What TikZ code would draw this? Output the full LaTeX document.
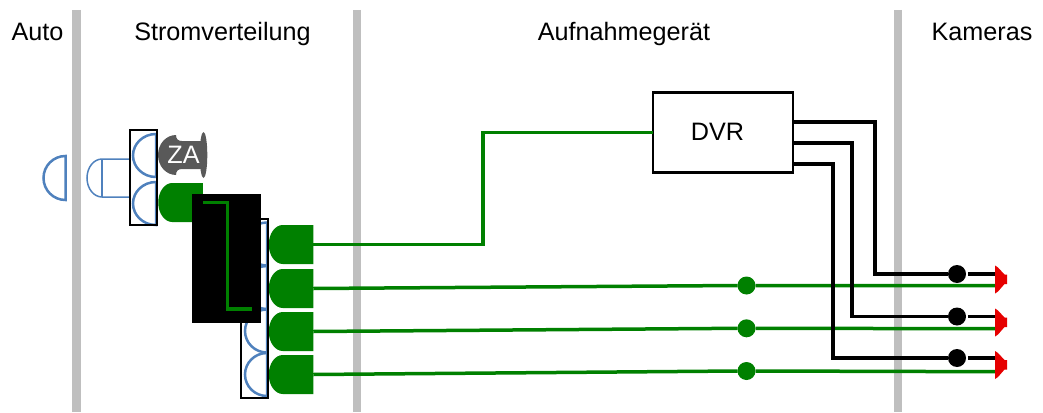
\documentclass[tikz,border=0pt]{standalone}
\usepackage{fontspec}
\setmainfont{Liberation Sans}
\definecolor{bargrey}{HTML}{BFBFBF}
\definecolor{zagrey}{HTML}{595959}
\definecolor{plugblue}{HTML}{4F81BD}
\definecolor{wiregreen}{HTML}{008000}
\definecolor{camred}{HTML}{E60000}
\tikzset{
  label/.style={font=\fontsize{25.2}{30}\selectfont,inner sep=0pt,anchor=base},
  bar/.style={bargrey,line width=8.5pt},
  halfplug/.style={draw=plugblue,line width=2.5pt},
  greenplug/.style={minimum width=44.5pt,minimum height=39pt,inner sep=0pt,outer sep=0pt},
  strip/.style={draw=black,line width=2pt,minimum width=27pt,inner sep=0pt,outer sep=0pt},
  greenwire/.style={wiregreen,line width=3.5pt},
  blackwire/.style={black,line width=3.5pt},
  greendot/.style={circle,fill=wiregreen,minimum size=18pt,inner sep=0pt,outer sep=0pt},
  blackdot/.style={circle,fill=black,minimum size=18pt,inner sep=0pt,outer sep=0pt}
}
\begin{document}
\begin{tikzpicture}[x=1pt,y=-1pt]
\useasboundingbox (0,0) rectangle (1043,412);

% Section bars
\foreach \x in {76.5,357,898} {
  \draw[bar] (\x,10) -- (\x,412);
}

% Section titles
\node[label] (auto) at (37.5,41) {Auto};
\node[label] (strom) at (222.5,41) {Stromverteilung};
\node[label] (aufnahme) at (624,41) {Aufnahmegerät};
\node[label] (kameras) at (982,41) {Kameras};

% Car plug and adapter
\draw[halfplug] (65.5,156) arc[start angle=270,end angle=90,x radius=22,y radius=22] -- cycle;
\draw[plugblue,line width=1.5pt] (130,159) -- (102,159) arc[start angle=270,end angle=90,x radius=15,y radius=19] -- (130,197);
\draw[plugblue,line width=1.5pt] (102,159) -- (102,197);

% Upper socket strip
\foreach \y in {134,182} {
  \draw[halfplug] (156,\y) arc[start angle=270,end angle=90,x radius=23,y radius=21.5] -- cycle;
}
\node[strip,minimum height=95pt] (strip1) at (143.5,177) {};

% Ignition plug
\fill[zagrey] (176,135) .. controls (166,135) and (158,144) .. (158,155)
  .. controls (158,166) and (166,175) .. (176,175)
  .. controls (176,171) and (178,169) .. (182,169) -- (202,169) -- (202,141) -- (182,141)
  .. controls (178,141) and (176,139) .. (176,135);
\fill[zagrey] (203.5,155) ellipse (3.8 and 23);
\node[label,white] (za) at (183.5,163) {ZA};

% Green plugs
\node[greenplug] (feed) at (180.5,202.5) {};
\node[greenplug] (plug1) at (291,244.5) {};
\node[greenplug] (plug2) at (291,288.5) {};
\node[greenplug] (plug3) at (291,331.5) {};
\node[greenplug] (plug4) at (291,374.5) {};
\foreach \n in {feed,plug1,plug2,plug3,plug4} {
  \fill[wiregreen] (\n.north east) -- ([xshift=14pt]\n.north west) arc[start angle=270,end angle=90,x radius=14,y radius=19.5] -- (\n.south east) -- cycle;
}

% Lower socket strip
\foreach \y in {222.5,266,309.5,353} {
  \draw[halfplug] (267,\y) arc[start angle=270,end angle=90,x radius=22,y radius=21.5] -- cycle;
}
\node[strip,minimum height=179pt] (strip2) at (254.5,308.5) {};

% Hidden part of the wiring
\node[fill=black,minimum width=69pt,minimum height=129pt,inner sep=0pt] (cover) at (226.5,258.5) {};
\coordinate (feedend) at (252,309);
\draw[greenwire] (feed.east) -- ++(24.5,0) |- (feedend);

% Recorder
\node[draw=black,line width=2.5pt,minimum width=140pt,minimum height=80pt,inner sep=0pt,outer sep=0pt] (dvr) at (723,132.5) {};
\node[label] (dvrtext) at (717.5,140.5) {DVR};

% Power wires
\draw[greenwire] (plug1.east) -- (483,244.5) |- (dvr.west);
\node[greendot] (gdot2) at (746.5,285.5) {};
\node[greendot] (gdot3) at (746.5,328.3) {};
\node[greendot] (gdot4) at (746.5,371) {};
\coordinate (gend2) at (996,285.7);
\coordinate (gend3) at (996,328.7);
\coordinate (gend4) at (996,371.7);
\draw[greenwire] (plug2.east) -- (gdot2.west);
\draw[greenwire] (gdot2.east) -- (gend2);
\draw[greenwire] (plug3.east) -- (gdot3.west);
\draw[greenwire] (gdot3.east) -- (gend3);
\draw[greenwire] (plug4.east) -- (gdot4.west);
\draw[greenwire] (gdot4.east) -- (gend4);

% Video wires
\node[blackdot] (bdot1) at (957,274) {};
\node[blackdot] (bdot2) at (957,316.5) {};
\node[blackdot] (bdot3) at (957,358) {};
\coordinate (out1) at (793,122);
\coordinate (out2) at (793,143);
\coordinate (out3) at (793,164);
\draw[blackwire] (out1) -- ++(82,0) |- (bdot1);
\draw[blackwire] (out2) -- ++(59,0) |- (bdot2);
\draw[blackwire] (out3) -- ++(40,0) |- (bdot3);

% Cameras
\foreach \n/\y in {1/274,2/316.5,3/358} {
  \coordinate (cam\n) at (996,\y);
  \draw[blackwire] ([xshift=2pt]bdot\n.east) -- (cam\n);
}
\foreach \y in {279.5,322.5,365} {
  \fill[camred,shift={(0,\y)}] (995,-14) -- (998,-12) -- (1004.5,-5) -- (1007,-5) -- (1007,4.5) -- (1004.5,4.5) -- (998,12) -- (995,14) -- cycle;
}
\end{tikzpicture}
\end{document}
